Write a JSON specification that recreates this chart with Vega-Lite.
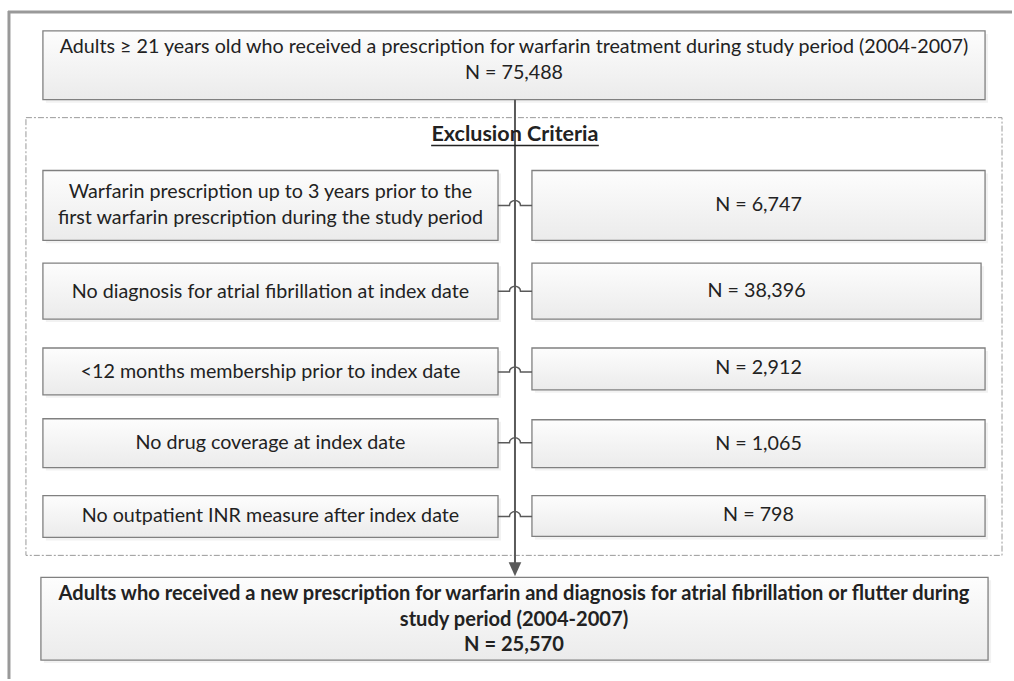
{
  "$schema": "https://vega.github.io/schema/vega-lite/v6.json",
  "width": 1014,
  "height": 681,
  "autosize": {"type": "fit", "contains": "padding"},
  "padding": 0,
  "background": "white",
  "config": {"view": {"stroke": null}},
  "datasets": {
    "frame": [
      {"x": 9, "x2": 9, "y": 11, "y2": 681},
      {"x": 8, "x2": 1014, "y": 12, "y2": 12}
    ],
    "dashed": [{"x": 26, "x2": 1004, "y": 118, "y2": 557}],
    "boxes": [
      {"x": 43, "x2": 987, "y": 31, "y2": 100},
      {"x": 43, "x2": 499, "y": 171, "y2": 241},
      {"x": 533, "x2": 987, "y": 171, "y2": 241},
      {"x": 43, "x2": 499, "y": 264, "y2": 320},
      {"x": 533, "x2": 983, "y": 264, "y2": 320},
      {"x": 43, "x2": 499, "y": 349, "y2": 396},
      {"x": 533, "x2": 987, "y": 349, "y2": 391},
      {"x": 43, "x2": 499, "y": 420, "y2": 469},
      {"x": 533, "x2": 987, "y": 421, "y2": 469},
      {"x": 43, "x2": 499, "y": 497, "y2": 539},
      {"x": 533, "x2": 987, "y": 497, "y2": 538},
      {"x": 41, "x2": 990, "y": 579, "y2": 662}
    ],
    "spine": [{"x": 516, "y": 100, "y2": 568}],
    "arrow": [{"x": 516, "y": 571}],
    "hops": [
      {"x": 516, "y": 206},
      {"x": 516, "y": 292},
      {"x": 516, "y": 373},
      {"x": 516, "y": 444},
      {"x": 516, "y": 518}
    ],
    "underline": [{"x": 432, "x2": 600, "y": 146}],
    "normal": [
      {"x": 515, "y": 47, "t": "Adults ≥ 21 years old who received a prescription for warfarin treatment during study period (2004-2007)"},
      {"x": 515, "y": 73, "t": "N = 75,488"},
      {"x": 271, "y": 193, "t": "Warfarin prescription up to 3 years prior to the"},
      {"x": 271, "y": 219, "t": "first warfarin prescription during the study period"},
      {"x": 271, "y": 293, "t": "No diagnosis for atrial fibrillation at index date"},
      {"x": 271, "y": 373, "t": "<12 months membership prior to index date"},
      {"x": 271, "y": 444, "t": "No drug coverage at index date"},
      {"x": 271, "y": 518, "t": "No outpatient INR measure after index date"},
      {"x": 760, "y": 206, "t": "N = 6,747"},
      {"x": 758, "y": 292, "t": "N = 38,396"},
      {"x": 760, "y": 369, "t": "N = 2,912"},
      {"x": 760, "y": 445, "t": "N = 1,065"},
      {"x": 760, "y": 517, "t": "N = 798"}
    ],
    "title": [{"x": 516, "y": 135, "t": "Exclusion Criteria"}],
    "bold": [
      {"x": 515, "y": 596, "t": "Adults who received a new prescription for warfarin and diagnosis for atrial fibrillation or flutter during"},
      {"x": 515, "y": 622, "t": "study period (2004-2007)"},
      {"x": 515, "y": 647, "t": "N = 25,570"}
    ]
  },
  "encoding": {
    "x": {"field": "x", "type": "quantitative", "scale": {"domain": [0, 1014], "nice": false, "zero": false}, "axis": null},
    "y": {"field": "y", "type": "quantitative", "scale": {"domain": [0, 681], "reverse": true, "nice": false, "zero": false}, "axis": null}
  },
  "layer": [
    {
      "data": {"name": "frame"},
      "mark": {"type": "rule", "color": "#999999", "strokeWidth": 3},
      "encoding": {"x2": {"field": "x2"}, "y2": {"field": "y2"}}
    },
    {
      "data": {"name": "dashed"},
      "mark": {"type": "rect", "fill": null, "fillOpacity": 0, "stroke": "#9a9a9a", "strokeWidth": 1, "strokeDash": [6, 2, 2, 2]},
      "encoding": {"x2": {"field": "x2"}, "y2": {"field": "y2"}}
    },
    {
      "data": {"name": "boxes"},
      "mark": {"type": "rect", "fill": "#ececec", "opacity": 0.7, "xOffset": 3, "x2Offset": 3, "yOffset": 3, "y2Offset": 3},
      "encoding": {"x2": {"field": "x2"}, "y2": {"field": "y2"}}
    },
    {
      "data": {"name": "boxes"},
      "mark": {
        "type": "rect",
        "fill": {"gradient": "linear", "x1": 0, "y1": 0, "x2": 0, "y2": 1, "stops": [{"offset": 0, "color": "#fdfdfd"}, {"offset": 1, "color": "#ebebeb"}]},
        "stroke": "#808080",
        "strokeWidth": 1.3
      },
      "encoding": {"x2": {"field": "x2"}, "y2": {"field": "y2"}}
    },
    {
      "data": {"name": "spine"},
      "mark": {"type": "rule", "color": "#5a5a5a", "strokeWidth": 2},
      "encoding": {"y2": {"field": "y2"}}
    },
    {
      "data": {"name": "arrow"},
      "mark": {"type": "point", "shape": "M-0.9,-1 L0.9,-1 L0,1 Z", "size": 196, "filled": true, "color": "#5a5a5a", "opacity": 1},
      "encoding": {}
    },
    {
      "data": {"name": "hops"},
      "mark": {"type": "point", "shape": "M-3.1,0 L-1,0 A1,0.9 0 0 1 1,0 L3.1,0", "size": 121, "filled": false, "stroke": "#5a5a5a", "strokeWidth": 1.5, "opacity": 1},
      "encoding": {}
    },
    {
      "data": {"name": "underline"},
      "mark": {"type": "rule", "color": "#222222", "strokeWidth": 1.5},
      "encoding": {"x2": {"field": "x2"}}
    },
    {
      "data": {"name": "normal"},
      "mark": {"type": "text", "font": "Lato", "fontSize": 19.7, "color": "#222222", "align": "center", "baseline": "middle"},
      "encoding": {"text": {"field": "t"}}
    },
    {
      "data": {"name": "title"},
      "mark": {"type": "text", "font": "Lato", "fontSize": 21.5, "fontWeight": "bold", "color": "#222222", "align": "center", "baseline": "middle"},
      "encoding": {"text": {"field": "t"}}
    },
    {
      "data": {"name": "bold"},
      "mark": {"type": "text", "font": "Lato", "fontSize": 20.1, "fontWeight": "bold", "color": "#222222", "align": "center", "baseline": "middle"},
      "encoding": {"text": {"field": "t"}}
    }
  ]
}
